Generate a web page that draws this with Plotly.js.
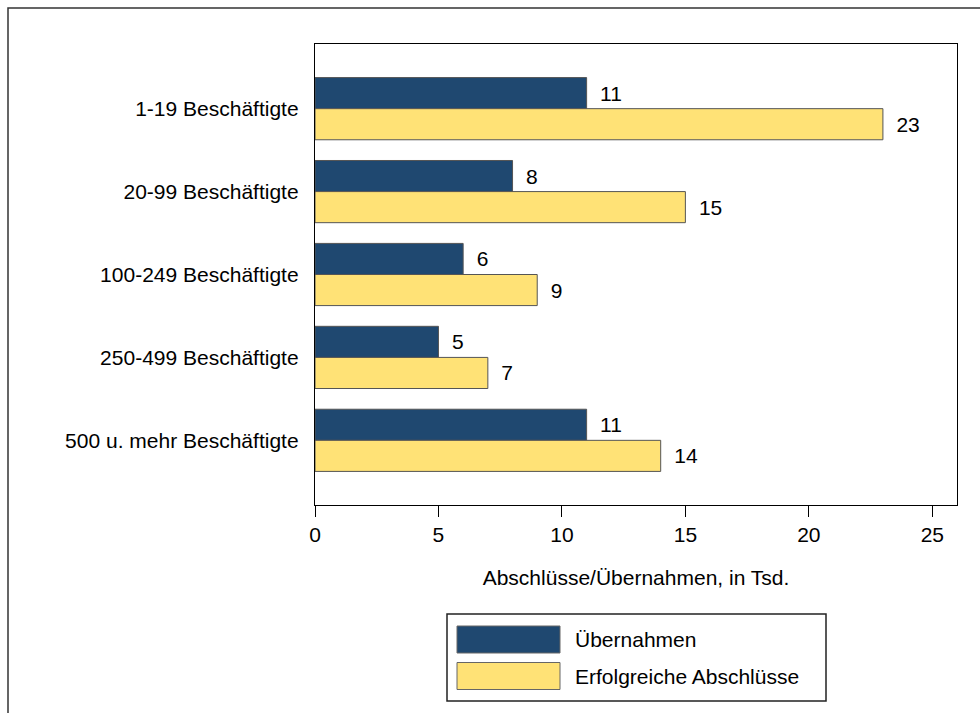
<!DOCTYPE html>
<html>
<head>
<meta charset="utf-8">
<script src="https://cdn.plot.ly/plotly-3.0.1.min.js"></script>
<style>
  html, body { margin: 0; padding: 0; background: #ffffff; }
  #chart { width: 980px; height: 713px; }
</style>
</head>
<body>
<div id="chart"></div>
<script>
// Betriebsgrößenklassen
const categories = [
  '1-19 Beschäftigte',
  '20-99 Beschäftigte',
  '100-249 Beschäftigte',
  '250-499 Beschäftigte',
  '500 u. mehr Beschäftigte'
];
// Werte in Tsd.
const uebernahmen = [11, 8, 6, 5, 11];
const abschluesse = [23, 15, 9, 7, 14];
const xTicks = [0, 5, 10, 15, 20, 25];

const seriesNames = ['Übernahmen', 'Erfolgreiche Abschlüsse'];
const seriesColors = ['#1f4870', '#ffe276'];

const W = 980, H = 713;
const M = { l: 315, r: 23, t: 44, b: 208 };
const plotW = W - M.l - M.r;
const plotH = H - M.t - M.b;
// pixel -> paper coordinates
const px = v => (v - M.l) / plotW;
const py = v => (H - M.b - v) / plotH;

const FONT = 'Liberation Sans, Arial, sans-serif';
const FS = 21;

function barTrace(name, values, color) {
  return {
    type: 'bar',
    orientation: 'h',
    name: name,
    y: categories,
    x: values,
    marker: { color: color, line: { color: '#555555', width: 1 } },
    text: values.map(String),
    texttemplate: '\u2002%{text}',
    textposition: 'outside',
    cliponaxis: false,
    textfont: { family: FONT, size: FS, color: '#000' },
    showlegend: false,
    hoverinfo: 'x+y'
  };
}

const data = [
  barTrace(seriesNames[0], uebernahmen, seriesColors[0]),
  barTrace(seriesNames[1], abschluesse, seriesColors[1])
];

// Legend: box, swatches and labels
const shapes = [
  // outer frame
  { type: 'rect', xref: 'paper', yref: 'paper',
    x0: px(8), x1: px(990), y0: py(725), y1: py(8),
    line: { color: '#333', width: 1.5 }, fillcolor: 'rgba(0,0,0,0)' },
  // legend box
  { type: 'rect', xref: 'paper', yref: 'paper',
    x0: px(447), x1: px(826), y0: py(701), y1: py(614),
    line: { color: '#222', width: 1.5 }, fillcolor: '#fff' }
];
const annotations = [];
const legendRows = [639.5, 676];
seriesNames.forEach((name, i) => {
  const cy = legendRows[i];
  shapes.push({ type: 'rect', xref: 'paper', yref: 'paper',
    x0: px(457), x1: px(560), y0: py(cy + 13.5), y1: py(cy - 13.5),
    line: { color: '#666', width: 1 }, fillcolor: seriesColors[i] });
  annotations.push({ xref: 'paper', yref: 'paper', x: px(573), y: py(cy),
    xanchor: 'left', yanchor: 'middle', showarrow: false, text: name,
    font: { family: FONT, size: FS, color: '#000' } });
});

const layout = {
  width: W, height: H,
  margin: M,
  paper_bgcolor: '#fff',
  plot_bgcolor: '#fff',
  font: { family: FONT, size: FS, color: '#000' },
  barmode: 'group',
  bargap: 0.25,
  bargroupgap: 0,
  showlegend: false,
  xaxis: {
    range: [0, 26],
    tickvals: xTicks,
    ticktext: xTicks.map(String),
    ticks: 'outside', ticklen: 11, tickwidth: 1, tickcolor: '#000',
    showgrid: false, zeroline: false,
    showline: true, linecolor: '#000', linewidth: 1.2, mirror: true,
    tickfont: { family: FONT, size: FS, color: '#000' },
    title: { text: 'Abschlüsse/Übernahmen, in Tsd.', standoff: 24,
             font: { family: FONT, size: FS, color: '#000' } }
  },
  yaxis: {
    type: 'category',
    range: [4.78, -0.78],
    ticks: '', ticklabelstandoff: 11,
    showgrid: false, zeroline: false,
    showline: true, linecolor: '#000', linewidth: 1.2, mirror: true,
    tickfont: { family: FONT, size: FS, color: '#000' }
  },
  shapes: shapes,
  annotations: annotations
};

Plotly.newPlot('chart', data, layout, { displayModeBar: false, staticPlot: true });
</script>
</body>
</html>
